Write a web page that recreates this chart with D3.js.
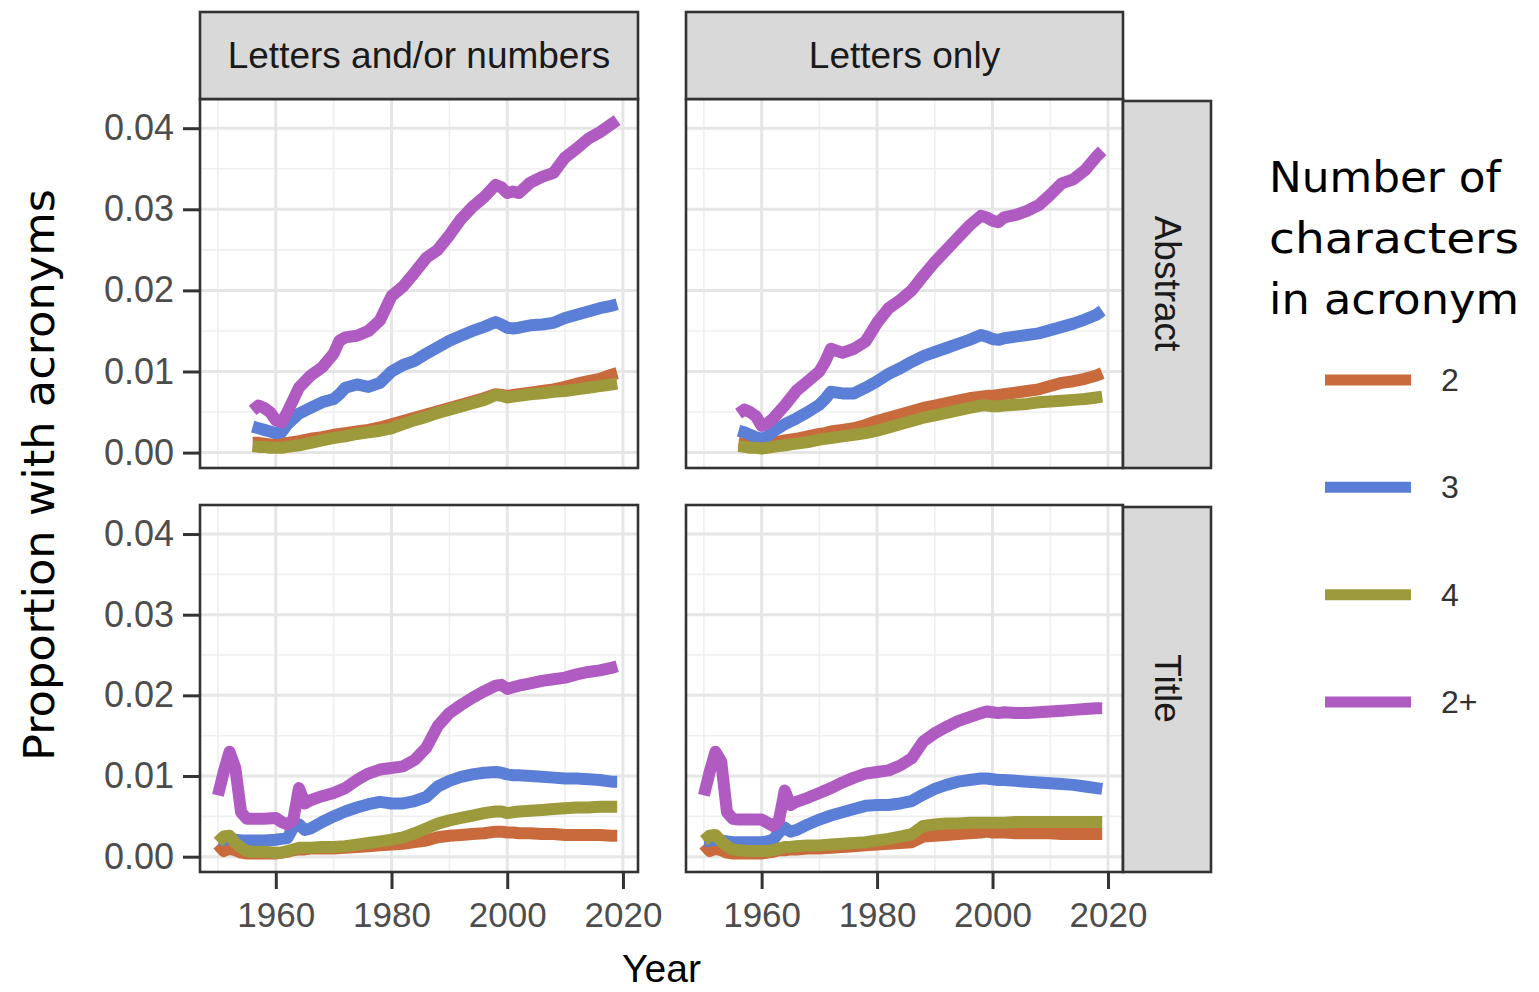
<!DOCTYPE html>
<html>
<head>
<meta charset="utf-8">
<script src="https://cdn.jsdelivr.net/npm/d3@7"></script>
<style>
  html, body { margin: 0; padding: 0; background: #fff; }
  svg { display: block; }
</style>
</head>
<body>
<div id="chart"></div>
<script>
// facet labels and series
const colFacets = ['Letters and/or numbers', 'Letters only'];
const rowFacets = ['Abstract', 'Title'];
const seriesNames = ['2', '3', '4', '2+'];
const seriesColors = ['#c96a3d', '#5b7fd6', '#9d9a3b', '#b05bc2'];

const yearTicks = [1960, 1980, 2000, 2020];
const yearMinor = [1950, 1970, 1990, 2010];
const propTicks = [0, 0.01, 0.02, 0.03, 0.04];
const propMinor = [0.005, 0.015, 0.025, 0.035];

const abstractYears = [1956, 1957, 1958, 1959, 1960, 1961, 1962, 1964, 1966, 1968, 1970, 1971, 1972,
  1974, 1976, 1978, 1980, 1982, 1984, 1986, 1988, 1990, 1992, 1994, 1996, 1998,
  1999, 2000, 2001, 2002, 2004, 2006, 2008, 2010, 2012, 2014, 2016, 2018, 2019];
const titleYears = [1950, 1951, 1952, 1953, 1954, 1955, 1956, 1958, 1960,
  1961, 1962, 1963, 1964, 1965, 1966,
  1968, 1970, 1972, 1974, 1976, 1978, 1980, 1982, 1984, 1986, 1988, 1990, 1992, 1994, 1996, 1998,
  1999, 2000, 2001, 2002, 2004, 2006, 2008, 2010, 2012, 2014, 2016, 2018, 2019];

// Abstract / letters and/or numbers
const absAll2 = [.0012, .0012, .0011, .0010, .0010, .0011, .0012, .0014, .0017, .0019, .0022, .0023, .0024,
  .0026, .0028, .0031, .0035, .0039, .0043, .0047, .0051, .0055, .0059, .0063, .0067, .0072,
  .0071, .0070, .0071, .0072, .0074, .0076, .0078, .0081, .0085, .0088, .0091, .0096, .0098];
const absAll3 = [.0032, .0030, .0028, .0026, .0024, .0025, .0035, .0048, .0055, .0062, .0066, .0072, .0080,
  .0084, .0081, .0086, .0100, .0108, .0113, .0122, .0130, .0138, .0144, .0150, .0155, .0161,
  .0158, .0154, .0153, .0154, .0157, .0158, .0160, .0166, .0170, .0174, .0178, .0181, .0183];
const absAll4 = [.0008, .0007, .0007, .0006, .0006, .0006, .0007, .0009, .0012, .0015, .0018, .0019, .0020,
  .0023, .0025, .0027, .0030, .0035, .0040, .0044, .0049, .0053, .0057, .0061, .0065, .0071,
  .0070, .0068, .0069, .0070, .0072, .0073, .0075, .0076, .0078, .0080, .0082, .0084, .0085];
const absAllPlus = [.0052, .0058, .0055, .0050, .0040, .0037, .0050, .0080, .0095, .0105, .0122, .0138, .0142,
  .0144, .0150, .0163, .0193, .0205, .0222, .0240, .0250, .0268, .0288, .0303, .0315, .0330,
  .0327, .0320, .0322, .0320, .0333, .0340, .0345, .0364, .0375, .0387, .0395, .0405, .0410];

// Abstract / letters only
const absLet2 = [.0012, .0011, .0010, .0010, .0010, .0011, .0012, .0015, .0017, .0020, .0023, .0024, .0026,
  .0028, .0030, .0034, .0039, .0043, .0047, .0051, .0055, .0058, .0061, .0064, .0067, .0069,
  .0070, .0070, .0071, .0072, .0074, .0076, .0078, .0082, .0086, .0088, .0091, .0095, .0098];
const absLet3 = [.0027, .0025, .0022, .0019, .0017, .0020, .0026, .0035, .0042, .0050, .0059, .0066, .0075,
  .0073, .0073, .0080, .0088, .0097, .0104, .0112, .0119, .0124, .0129, .0134, .0139, .0145,
  .0143, .0140, .0139, .0141, .0143, .0145, .0147, .0151, .0155, .0159, .0164, .0170, .0175];
const absLet4 = [.0008, .0007, .0006, .0006, .0005, .0006, .0007, .0009, .0011, .0013, .0016, .0017, .0018,
  .0020, .0022, .0024, .0027, .0031, .0035, .0039, .0043, .0046, .0049, .0052, .0055, .0058,
  .0058, .0057, .0057, .0058, .0059, .0060, .0062, .0063, .0064, .0065, .0066, .0068, .0069];
const absLetPlus = [.0048, .0053, .0050, .0045, .0033, .0036, .0042, .0058, .0076, .0088, .0100, .0112, .0128,
  .0123, .0128, .0137, .0160, .0178, .0188, .0200, .0218, .0235, .0250, .0265, .0280, .0292,
  .0290, .0286, .0284, .0290, .0293, .0298, .0305, .0318, .0332, .0337, .0348, .0365, .0372];

// Title / letters and/or numbers
const titAll2 = [.0015, .0007, .0010, .0008, .0005, .0004, .0004, .0004, .0004,
  .0005, .0006, .0008, .0009, .0009, .0010,
  .0010, .0010, .0011, .0012, .0013, .0014, .0015, .0016, .0018, .0020, .0024, .0026, .0027, .0028, .0029, .0031,
  .0031, .0030, .0030, .0029, .0029, .0028, .0028, .0027, .0027, .0027, .0027, .0026, .0026];
const titAll3 = [.0020, .0021, .0022, .0021, .0020, .0020, .0020, .0020, .0021,
  .0022, .0023, .0036, .0040, .0033, .0035,
  .0043, .0050, .0056, .0061, .0065, .0068, .0066, .0066, .0069, .0074, .0087, .0094, .0099, .0102, .0104, .0105,
  .0104, .0102, .0101, .0101, .0100, .0099, .0098, .0097, .0097, .0096, .0095, .0093, .0093];
const titAll4 = [.0018, .0025, .0026, .0017, .0011, .0007, .0006, .0006, .0005,
  .0005, .0007, .0009, .0011, .0011, .0011,
  .0012, .0012, .0013, .0015, .0017, .0019, .0021, .0024, .0029, .0035, .0041, .0045, .0048, .0051, .0054, .0056,
  .0056, .0054, .0055, .0056, .0057, .0058, .0059, .0060, .0061, .0061, .0062, .0062, .0062];
const titAllPlus = [.0076, .0105, .0130, .0110, .0055, .0047, .0047, .0047, .0048,
  .0043, .0040, .0045, .0085, .0066, .0070,
  .0075, .0079, .0085, .0095, .0103, .0108, .0110, .0112, .0120, .0135, .0162, .0178, .0188, .0197, .0205, .0212,
  .0213, .0208, .0210, .0212, .0215, .0218, .0220, .0222, .0226, .0229, .0231, .0234, .0236];

// Title / letters only
const titLet2 = [.0015, .0007, .0010, .0008, .0005, .0004, .0004, .0004, .0004,
  .0005, .0006, .0008, .0008, .0009, .0009,
  .0010, .0010, .0011, .0012, .0013, .0014, .0015, .0016, .0017, .0018, .0025, .0026, .0027, .0028, .0029, .0030,
  .0031, .0030, .0030, .0030, .0029, .0029, .0029, .0029, .0028, .0028, .0028, .0028, .0028];
const titLet3 = [.0019, .0020, .0021, .0020, .0019, .0018, .0018, .0018, .0018,
  .0019, .0021, .0030, .0036, .0031, .0033,
  .0040, .0046, .0051, .0055, .0059, .0063, .0064, .0064, .0066, .0069, .0077, .0084, .0089, .0093, .0095, .0097,
  .0097, .0096, .0095, .0095, .0094, .0093, .0092, .0091, .0090, .0089, .0087, .0085, .0084];
const titLet4 = [.0020, .0026, .0027, .0019, .0013, .0009, .0008, .0007, .0007,
  .0007, .0008, .0010, .0012, .0012, .0013,
  .0014, .0014, .0015, .0016, .0017, .0018, .0020, .0022, .0025, .0028, .0038, .0040, .0041, .0041, .0042, .0042,
  .0042, .0042, .0042, .0042, .0043, .0043, .0043, .0043, .0043, .0043, .0043, .0043, .0043];
const titLetPlus = [.0076, .0105, .0130, .0118, .0055, .0047, .0046, .0046, .0046,
  .0042, .0038, .0045, .0082, .0064, .0068,
  .0073, .0079, .0085, .0092, .0098, .0103, .0105, .0107, .0113, .0122, .0143, .0153, .0161, .0168, .0173, .0178,
  .0180, .0179, .0178, .0179, .0178, .0178, .0179, .0180, .0181, .0182, .0183, .0184, .0184];

const panels = [
  { row: 0, col: 0, years: abstractYears, series: [absAll2, absAll3, absAll4, absAllPlus] },
  { row: 0, col: 1, years: abstractYears, series: [absLet2, absLet3, absLet4, absLetPlus] },
  { row: 1, col: 0, years: titleYears, series: [titAll2, titAll3, titAll4, titAllPlus] },
  { row: 1, col: 1, years: titleYears, series: [titLet2, titLet3, titLet4, titLetPlus] }
];

// layout
const width = 1539, height = 992;
const colX = [[200, 638], [686, 1123]];
const rowY = [[99, 468], [505, 872]];
const stripTop = 12, stripRight = 1211;
const xDomain = [1946.9, 2022.6];
const yDomain = [-0.0019, 0.0436];
const border = '#333333';
const tickFont = '"Liberation Sans", Arial, Helvetica, sans-serif';
const titleFont = '"DejaVu Sans", sans-serif';

const svg = d3.select('#chart').append('svg')
  .attr('width', width)
  .attr('height', height)
  .attr('viewBox', `0 0 ${width} ${height}`);

svg.append('rect').attr('width', width).attr('height', height).attr('fill', '#fff');

const xScales = colX.map(r => d3.scaleLinear().domain(xDomain).range(r));
const yScales = rowY.map(r => d3.scaleLinear().domain(yDomain).range([r[1], r[0]]));

panels.forEach(p => {
  const x = xScales[p.col];
  const y = yScales[p.row];
  const [x0, x1] = colX[p.col];
  const [y0, y1] = rowY[p.row];
  const g = svg.append('g').attr('class', 'panel');

  g.append('rect')
    .attr('x', x0).attr('y', y0)
    .attr('width', x1 - x0).attr('height', y1 - y0)
    .attr('fill', '#fff');

  // minor grid
  g.selectAll('line.vminor').data(yearMinor).enter().append('line')
    .attr('x1', d => x(d)).attr('x2', d => x(d))
    .attr('y1', y0).attr('y2', y1)
    .attr('stroke', '#efefef').attr('stroke-width', 1.6);
  g.selectAll('line.hminor').data(propMinor).enter().append('line')
    .attr('x1', x0).attr('x2', x1)
    .attr('y1', d => y(d)).attr('y2', d => y(d))
    .attr('stroke', '#efefef').attr('stroke-width', 1.6);

  // major grid
  g.selectAll('line.vmajor').data(yearTicks).enter().append('line')
    .attr('x1', d => x(d)).attr('x2', d => x(d))
    .attr('y1', y0).attr('y2', y1)
    .attr('stroke', '#e6e6e6').attr('stroke-width', 3);
  g.selectAll('line.hmajor').data(propTicks).enter().append('line')
    .attr('x1', x0).attr('x2', x1)
    .attr('y1', d => y(d)).attr('y2', d => y(d))
    .attr('stroke', '#e6e6e6').attr('stroke-width', 3);

  const line = d3.line()
    .x((d, i) => x(p.years[i]))
    .y(d => y(d));

  g.selectAll('path.series').data(p.series).enter().append('path')
    .attr('class', 'series')
    .attr('d', d => line(d))
    .attr('fill', 'none')
    .attr('stroke', (d, i) => seriesColors[i])
    .attr('stroke-width', 12)
    .attr('stroke-linejoin', 'round');

  g.append('rect')
    .attr('x', x0).attr('y', y0)
    .attr('width', x1 - x0).attr('height', y1 - y0)
    .attr('fill', 'none')
    .attr('stroke', border).attr('stroke-width', 2.6);

  // left axis
  if (p.col === 0) {
    const ax = svg.append('g')
      .attr('transform', `translate(${x0 - 1},0)`)
      .call(d3.axisLeft(y).tickValues(propTicks).tickFormat(d3.format('.2f')).tickSize(16).tickPadding(9));
    ax.select('.domain').remove();
    ax.selectAll('.tick line').attr('stroke', border).attr('stroke-width', 3);
    ax.selectAll('.tick text')
      .attr('fill', '#4d4d4d')
      .style('font-family', tickFont)
      .style('font-size', '36px');
  }
  // bottom axis
  if (p.row === 1) {
    const ax = svg.append('g')
      .attr('transform', `translate(0,${y1 + 1})`)
      .call(d3.axisBottom(x).tickValues(yearTicks).tickFormat(d3.format('d')).tickSize(16).tickPadding(13));
    ax.select('.domain').remove();
    ax.selectAll('.tick line').attr('stroke', border).attr('stroke-width', 3);
    ax.selectAll('.tick text')
      .attr('fill', '#4d4d4d')
      .style('font-family', tickFont)
      .style('font-size', '35px');
  }
});

// top strips
colFacets.forEach((label, i) => {
  const [x0, x1] = colX[i];
  svg.append('rect')
    .attr('x', x0).attr('y', stripTop)
    .attr('width', x1 - x0).attr('height', rowY[0][0] - stripTop)
    .attr('fill', '#d9d9d9')
    .attr('stroke', border).attr('stroke-width', 2.6);
  svg.append('text')
    .attr('x', (x0 + x1) / 2)
    .attr('y', (stripTop + rowY[0][0]) / 2)
    .attr('text-anchor', 'middle')
    .attr('dominant-baseline', 'central')
    .attr('fill', '#1a1a1a')
    .style('font-family', tickFont)
    .style('font-size', '37px')
    .text(label);
});

// right strips
rowFacets.forEach((label, i) => {
  const [y0, y1] = rowY[i];
  const sx = colX[1][1];
  svg.append('rect')
    .attr('x', sx).attr('y', y0 + 2)
    .attr('width', stripRight - sx).attr('height', y1 - y0 - 2)
    .attr('fill', '#d9d9d9')
    .attr('stroke', border).attr('stroke-width', 2.6);
  const cx = (sx + stripRight) / 2, cy = (y0 + y1) / 2;
  svg.append('text')
    .attr('transform', `translate(${cx},${cy}) rotate(90)`)
    .attr('text-anchor', 'middle')
    .attr('dominant-baseline', 'central')
    .attr('fill', '#1a1a1a')
    .style('font-family', tickFont)
    .style('font-size', '37px')
    .text(label);
});

// axis titles
svg.append('text')
  .attr('x', (colX[0][0] + colX[1][1]) / 2)
  .attr('y', 982)
  .attr('text-anchor', 'middle')
  .attr('fill', '#000')
  .style('font-family', tickFont)
  .style('font-size', '39px')
  .text('Year');

svg.append('text')
  .attr('transform', 'translate(54,475) rotate(-90)')
  .attr('text-anchor', 'middle')
  .attr('textLength', 572)
  .attr('lengthAdjust', 'spacingAndGlyphs')
  .attr('fill', '#000')
  .style('font-family', titleFont)
  .style('font-size', '43px')
  .text('Proportion with acronyms');

// legend
const legendTitle = ['Number of', 'characters', 'in acronym'];
const legendTitleWidths = [232, 250, 250];
svg.selectAll('text.legend-title').data(legendTitle).enter().append('text')
  .attr('class', 'legend-title')
  .attr('x', 1269)
  .attr('y', (d, i) => 192 + i * 61)
  .attr('textLength', (d, i) => legendTitleWidths[i])
  .attr('lengthAdjust', 'spacingAndGlyphs')
  .attr('fill', '#000')
  .style('font-family', titleFont)
  .style('font-size', '43px')
  .text(d => d);

const legendY = d3.scalePoint().domain(seriesNames).range([380, 702]);
const legend = svg.append('g');
legend.selectAll('line').data(seriesNames).enter().append('line')
  .attr('x1', 1325).attr('x2', 1411)
  .attr('y1', d => legendY(d)).attr('y2', d => legendY(d))
  .attr('stroke', (d, i) => seriesColors[i])
  .attr('stroke-width', 11);
legend.selectAll('text').data(seriesNames).enter().append('text')
  .attr('x', 1441)
  .attr('y', d => legendY(d))
  .attr('dominant-baseline', 'central')
  .attr('fill', '#333')
  .style('font-family', tickFont)
  .style('font-size', '32px')
  .text(d => d);
</script>
</body>
</html>
